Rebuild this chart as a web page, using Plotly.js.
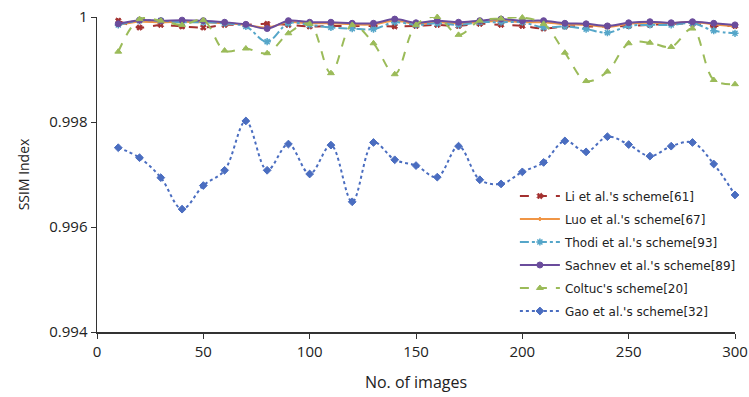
<!DOCTYPE html>
<html>
<head>
<meta charset="utf-8">
<script src="https://cdn.plot.ly/plotly-3.0.1.min.js"></script>
<style>html,body{margin:0;padding:0;background:#fff;}#chart{width:749px;height:397px;}</style>
</head>
<body>
<div id="chart"></div>
<script>
const images = [10,20,30,40,50,60,70,80,90,100,110,120,130,140,150,160,170,180,190,200,210,220,230,240,250,260,270,280,290,300];

const li = [0.99993,0.99980,0.99985,0.99982,0.99980,0.99985,0.99985,0.99987,0.99985,0.99982,0.99983,0.99983,0.99983,0.99982,0.99983,0.99985,0.99983,0.99987,0.99985,0.99983,0.99978,0.99982,0.99982,0.99982,0.99983,0.99985,0.99987,0.99987,0.99983,0.99983];
const luo = [0.99985,0.99991,0.99990,0.99991,0.99990,0.99988,0.99985,0.99980,0.99990,0.99988,0.99988,0.99986,0.99986,0.99993,0.99987,0.99990,0.99988,0.99990,0.99993,0.99990,0.99990,0.99986,0.99985,0.99981,0.99987,0.99989,0.99988,0.99991,0.99986,0.99982];
const thodi = [0.99985,0.99993,0.99993,0.99990,0.99990,0.99988,0.99982,0.99953,0.99988,0.99985,0.99980,0.99978,0.99977,0.99990,0.99985,0.99988,0.99985,0.99990,0.99990,0.99990,0.99980,0.99982,0.99977,0.99970,0.99983,0.99985,0.99985,0.99988,0.99974,0.99969];
const sachnev = [0.99987,0.99994,0.99993,0.99994,0.99993,0.99990,0.99986,0.99978,0.99993,0.99990,0.99990,0.99988,0.99988,0.99996,0.99989,0.99993,0.99990,0.99993,0.99996,0.99993,0.99993,0.99988,0.99987,0.99983,0.99989,0.99991,0.99989,0.99991,0.99988,0.99985];
const coltuc = [0.99934,0.99996,0.99993,0.99985,0.99994,0.99936,0.99940,0.99931,0.99969,0.99987,0.99893,0.99985,0.99950,0.99891,0.99985,1.00000,0.99966,0.99993,0.99997,0.99999,0.99987,0.99932,0.99878,0.99896,0.99950,0.99951,0.99943,0.99978,0.99880,0.99872];
const gao = [0.99751,0.99732,0.99694,0.99634,0.99679,0.99708,0.99802,0.99708,0.99758,0.99701,0.99756,0.99648,0.99761,0.99728,0.99717,0.99695,0.99754,0.99690,0.99682,0.99705,0.99723,0.99764,0.99743,0.99772,0.99757,0.99735,0.99754,0.99761,0.99720,0.99661];

const yTicks = [0.994, 0.996, 0.998, 1];
const yTickText = ['0.994', '0.996', '0.998', '1'];
const xTicks = [0, 50, 100, 150, 200, 250, 300];

function tr(name, y, color, dash, symbol, msize, mlw, legendId) {
  return {
    x: images, y: y, name: name, type: 'scatter', mode: 'lines+markers',
    line: {color: color, width: 2, dash: dash, shape: 'spline', smoothing: 1},
    marker: {color: color, symbol: symbol, size: msize, line: {color: color, width: mlw}},
    cliponaxis: false, legend: legendId
  };
}

const data = [
  tr("Li et al.'s scheme[61]", li, '#A3302F', 'dash', 'x', 5, 1, 'legend'),
  tr("Luo et al.'s scheme[67]", luo, '#F09545', 'solid', 'diamond', 3, 1, 'legend2'),
  tr("Thodi et al.'s scheme[93]", thodi, '#55A6C9', 'dashdot', 'asterisk-open', 6, 1.5, 'legend3'),
  tr("Sachnev et al.'s scheme[89]", sachnev, '#6A4C9C', 'solid', 'circle', 6, 1, 'legend4'),
  tr("Coltuc's scheme[20]", coltuc, '#9BBB59', 'dash', 'triangle-up', 6, 1, 'legend5'),
  tr("Gao et al.'s scheme[32]", gao, '#4A6DC0', 'dot', 'diamond', 6, 1, 'legend6')
];

function leg(yPaper) {
  return {
    x: 0.655, y: yPaper, xanchor: 'left', yanchor: 'middle',
    bgcolor: 'rgba(0,0,0,0)', font: {family: 'DejaVu Sans, sans-serif', size: 12, color: '#222'},
    itemwidth: 40
  };
}

const layout = {
  width: 749, height: 397,
  margin: {l: 97, r: 14, t: 17, b: 65, autoexpand: false},
  paper_bgcolor: '#fff', plot_bgcolor: '#fff',
  font: {family: 'Open Sans, sans-serif', color: '#222'},
  showlegend: true,
  legend: leg(0.4317),
  legend2: leg(0.3587),
  legend3: leg(0.2857),
  legend4: leg(0.2127),
  legend5: leg(0.1397),
  legend6: leg(0.0667),
  xaxis: {
    range: [0, 300], tickvals: xTicks, showgrid: false, zeroline: false,
    showline: true, linecolor: '#333', linewidth: 1.5,
    ticks: 'outside', ticklen: 5, tickcolor: '#333', automargin: false,
    tickfont: {size: 15, family: 'Open Sans, sans-serif'},
    title: {text: 'No. of images', font: {size: 16, family: 'Open Sans, sans-serif'}, standoff: 17}
  },
  yaxis: {
    range: [0.994, 1], tickvals: yTicks, ticktext: yTickText, showgrid: false, zeroline: false,
    showline: true, linecolor: '#333', linewidth: 1.5,
    ticks: 'outside', ticklen: 5, tickcolor: '#333', automargin: false,
    tickfont: {size: 15, family: 'Open Sans, sans-serif'},
    title: {text: 'SSIM Index', font: {size: 14, family: 'Open Sans, sans-serif'}, standoff: 16}
  }
};

Plotly.newPlot('chart', data, layout, {displayModeBar: false, staticPlot: true});
</script>
</body>
</html>
